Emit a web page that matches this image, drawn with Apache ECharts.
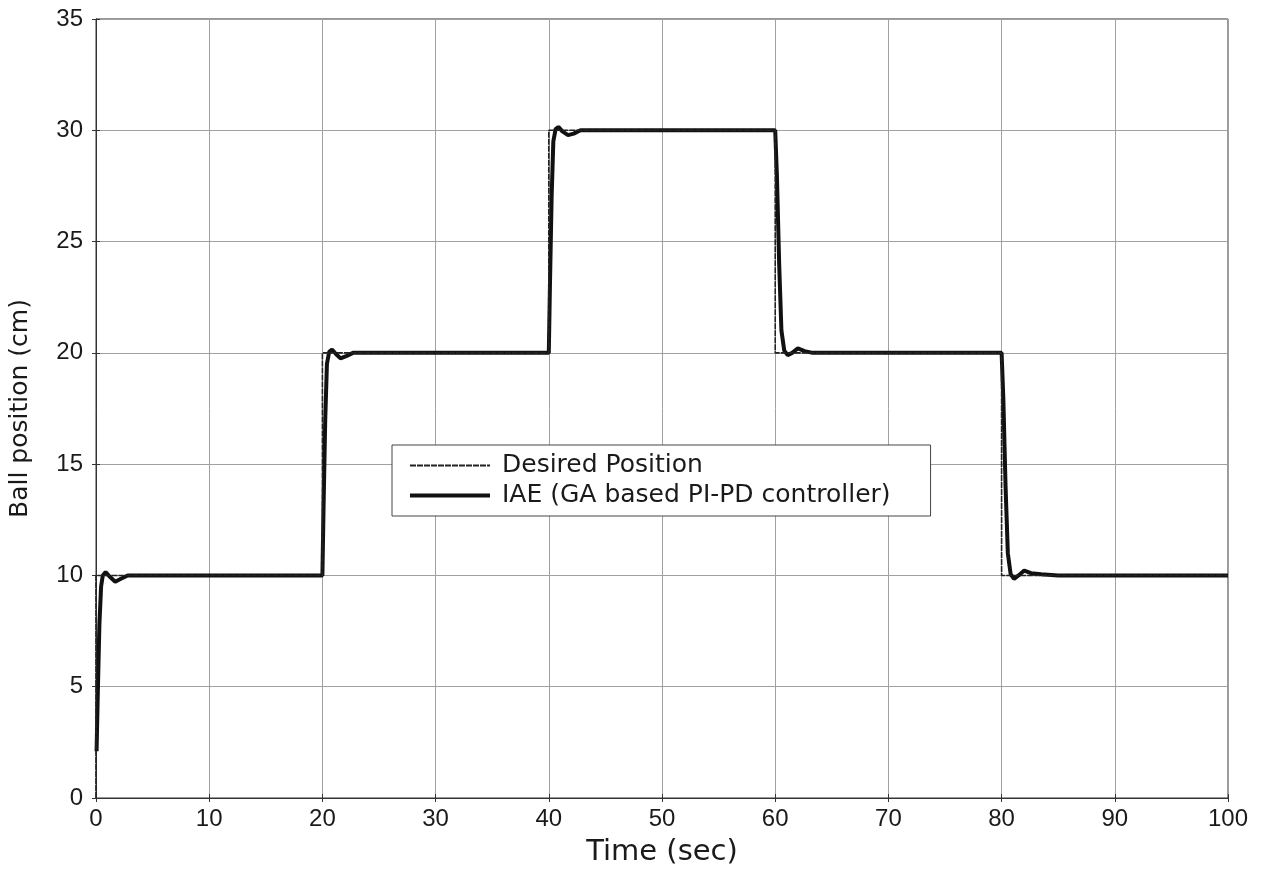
<!DOCTYPE html>
<html>
<head>
<meta charset="utf-8">
<title>Ball position response</title>
<script src="https://cdn.jsdelivr.net/npm/echarts@6/dist/echarts.min.js"></script>
<style>
  html, body { margin: 0; padding: 0; background: #ffffff; }
  #chart { width: 1264px; height: 872px; }
</style>
</head>
<body>
<div id="chart"></div>
<script>
// Set-point (desired ball position) as a step sequence: time (sec) / position (cm)
const desiredTime  = [0, 0, 20, 20, 40, 40, 60, 60, 80, 80, 100];
const desiredValue = [0, 10, 10, 20, 20, 30, 30, 20, 20, 10, 10];

// Closed-loop response of the GA tuned PI-PD controller (IAE criterion)
const responseTime = [
  0.05, 0.15, 0.3, 0.45, 0.6, 0.85, 1.2, 1.7, 2.2, 2.8,
  20.0, 20.1, 20.25, 20.4, 20.6, 20.85, 21.2, 21.6, 22.1, 22.7,
  40.0, 40.1, 40.25, 40.4, 40.6, 40.85, 41.2, 41.7, 42.2, 42.8,
  60.0, 60.15, 60.35, 60.55, 60.8, 61.1, 61.5, 62.0, 62.6, 63.3,
  80.0, 80.15, 80.35, 80.55, 80.8, 81.1, 81.5, 82.0, 82.6, 83.5, 85.0, 100.0
];
const responseValue = [
  2.1, 4.5, 7.8, 9.5, 10.0, 10.15, 9.95, 9.72, 9.85, 10.0,
  10.0, 13.0, 17.0, 19.5, 20.05, 20.15, 19.95, 19.75, 19.85, 20.0,
  20.0, 23.0, 27.0, 29.5, 30.05, 30.15, 29.95, 29.78, 29.85, 30.0,
  30.0, 28.0, 24.0, 21.0, 20.1, 19.9, 20.0, 20.2, 20.08, 20.0,
  20.0, 18.0, 14.0, 11.0, 10.05, 9.85, 10.0, 10.22, 10.1, 10.05, 10.0, 10.0
];

const xTicks = [0, 10, 20, 30, 40, 50, 60, 70, 80, 90, 100];
const yTicks = [0, 5, 10, 15, 20, 25, 30, 35];

const desiredData  = desiredTime.map((t, i) => [t, desiredValue[i]]);
const responseData = responseTime.map((t, i) => [t, responseValue[i]]);

const tickFont = 'Liberation Sans, Arial, sans-serif';
const textFont = 'DejaVu Sans, sans-serif';
const xMin = xTicks[0], xMax = xTicks[xTicks.length - 1];
const yMin = yTicks[0], yMax = yTicks[yTicks.length - 1];

// Plain axis used for the top and right frame edges (ticks only)
function frameAxis(extra) {
  return Object.assign({
    type: 'value',
    axisLine: { show: true, lineStyle: { color: '#333', width: 1 } },
    axisTick: { show: true, inside: true, length: 4, lineStyle: { color: '#333' } },
    axisLabel: { show: false },
    splitLine: { show: false }
  }, extra);
}

const chart = echarts.init(document.getElementById('chart'), null, { renderer: 'canvas' });

chart.setOption({
  backgroundColor: '#ffffff',
  animation: false,
  grid: {
    left: 96, right: 36, top: 19, bottom: 73,
    show: true, borderColor: '#333333', borderWidth: 1, backgroundColor: 'transparent'
  },
  xAxis: [
    {
      type: 'value',
      min: xMin, max: xMax, interval: 10,
      name: 'Time (sec)', nameLocation: 'middle', nameGap: 40,
      nameTextStyle: { fontFamily: textFont, fontSize: 29, color: '#1a1a1a' },
      axisLine: { show: true, lineStyle: { color: '#333', width: 1 } },
      axisTick: { show: true, inside: true, length: 4, lineStyle: { color: '#333' } },
      axisLabel: { fontFamily: tickFont, fontSize: 24, color: '#1a1a1a', margin: 9 },
      splitLine: { show: true, lineStyle: { color: '#a0a0a0', width: 1 } }
    },
    frameAxis({ position: 'top', min: xMin, max: xMax, interval: 10 })
  ],
  yAxis: [
    {
      type: 'value',
      min: yMin, max: yMax, interval: 5,
      name: 'Ball position (cm)', nameLocation: 'middle', nameGap: 63,
      nameTextStyle: { fontFamily: textFont, fontSize: 25, color: '#1a1a1a' },
      axisLine: { show: true, lineStyle: { color: '#333', width: 1 } },
      axisTick: { show: true, inside: true, length: 4, lineStyle: { color: '#333' } },
      axisLabel: { fontFamily: tickFont, fontSize: 24, color: '#1a1a1a', margin: 13 },
      splitLine: { show: true, lineStyle: { color: '#a0a0a0', width: 1 } }
    },
    frameAxis({ position: 'right', min: yMin, max: yMax, interval: 5 })
  ],
  legend: {
    show: true,
    orient: 'vertical',
    left: 392, top: 445,
    padding: [8, 40, 8, 16],
    itemGap: 5,
    itemWidth: 80, itemHeight: 14,
    backgroundColor: '#ffffff',
    borderColor: '#444444', borderWidth: 1, borderRadius: 0,
    itemStyle: { opacity: 0 },
    textStyle: { fontFamily: textFont, fontSize: 25, color: '#1a1a1a', padding: [0, 0, 0, 7] },
    data: [
      { name: 'Desired Position', lineStyle: { width: 2 } },
      { name: 'IAE (GA based PI-PD controller)', lineStyle: { width: 4 } }
    ]
  },
  series: [
    {
      name: 'Desired Position',
      type: 'line',
      data: desiredData,
      symbol: 'none',
      lineStyle: { color: '#222222', width: 1.6, type: [6, 1] },
      itemStyle: { color: '#222222' },
      z: 3
    },
    {
      name: 'IAE (GA based PI-PD controller)',
      type: 'line',
      data: responseData,
      symbol: 'none',
      lineStyle: { color: '#111111', width: 4 },
      itemStyle: { color: '#111111' },
      z: 2
    }
  ]
});
</script>
</body>
</html>
